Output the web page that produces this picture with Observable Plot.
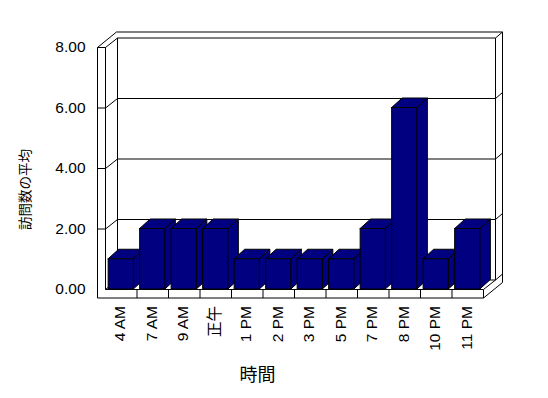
<!DOCTYPE html>
<html>
<head>
<meta charset="utf-8">
<script src="https://cdn.jsdelivr.net/npm/d3@7"></script>
<script src="https://cdn.jsdelivr.net/npm/@observablehq/plot@0.6"></script>
<style>
  html, body { margin: 0; padding: 0; background: #fff; }
  #chart svg { display: block; }
</style>
</head>
<body>
<div id="chart"></div>
<script>
// ---- data ----
const categories = ["4 AM", "7 AM", "9 AM", "正午", "1 PM", "2 PM", "3 PM", "5 PM", "7 PM", "8 PM", "10 PM", "11 PM"];
const values = [1, 2, 2, 2, 1, 1, 1, 1, 2, 6, 1, 2];
const yTicks = [0, 2, 4, 6, 8];
const yTickLabels = ["0.00", "2.00", "4.00", "6.00", "8.00"];
const xTitle = "時間";
const yTitle = "訪問数の平均";

// ---- layout ----
const W = 548, H = 398;
const mL = 105, mR = 65, mT = 47, mB = 109;
const xDomain = [-0.5, categories.length - 0.5];
const yDomain = [0, d3.max(yTicks)];
const kx = (W - mL - mR) / (xDomain[1] - xDomain[0]); // px per x unit
const ky = (H - mT - mB) / (yDomain[1] - yDomain[0]); // px per y unit
const px = p => p / kx, py = p => p / ky;

// depth offsets (pixels -> data units)
const inD = {x: px(12), y: py(9.5)};    // front plane -> back wall inner face
const outD = {x: px(19), y: py(15.5)};  // front plane -> back wall outer face
const wallT = px(8);                    // left wall thickness
const floorT = py(8.5);                 // floor thickness
const barHalf = px(12.6);
const barD = {x: px(10.5), y: py(9.5)};

const xL = xDomain[0], xR = xDomain[1], yT = yDomain[1];
const xLo = xL - wallT, yB = -floorT;

// ---- structural segments (walls / floor / gridlines) ----
const segs = [];
const seg = (x1, y1, x2, y2) => segs.push({x1, y1, x2, y2});
// back wall inner face gridlines + edges
yTicks.forEach(v => seg(xL + inD.x, v + inD.y, xR + inD.x, v + inD.y));
seg(xL + inD.x, inD.y, xL + inD.x, yT + inD.y);
seg(xR + inD.x, inD.y, xR + inD.x, yT + inD.y);
// back wall top (outer edge) and right side
seg(xLo + outD.x, yT + outD.y, xR + outD.x, yT + outD.y);
seg(xR + outD.x, yB + outD.y, xR + outD.x, yT + outD.y);
yTicks.forEach(v => seg(xR + inD.x, v + inD.y, xR + outD.x, v + outD.y));
// left wall front face
seg(xLo, yB, xLo, yT);
seg(xL, 0, xL, yT);
seg(xLo, yT, xL, yT);
yTicks.filter(v => v > 0).forEach(v => seg(xLo, v, xL, v));
// left wall top / inner face diagonals
seg(xLo, yT, xLo + outD.x, yT + outD.y);
yTicks.forEach(v => seg(xL, v, xL + inD.x, v + inD.y));
// floor
seg(xLo, yB, xR, yB);
seg(xL, 0, xR, 0);
seg(xR, yB, xR, 0);
d3.range(1, categories.length).forEach(k => seg(xL + k, yB, xL + k, 0));
seg(xR, 0, xR + inD.x, inD.y);
seg(xR, yB, xR + outD.x, yB + outD.y);

// ---- bar faces ----
const idx = d3.range(values.length);
const sidePts = idx.flatMap(i => [
  {i, x: i + barHalf, y1: 0, y2: values[i]},
  {i, x: i + barHalf + barD.x, y1: barD.y, y2: values[i] + barD.y}
]);
const topPts = idx.flatMap(i => [
  {i, y: values[i], x1: i - barHalf, x2: i + barHalf},
  {i, y: values[i] + barD.y, x1: i - barHalf + barD.x, x2: i + barHalf + barD.x}
]);

const navy = "#000080";
const font = "'Liberation Sans', 'Noto Sans CJK JP', sans-serif";

const chart = Plot.plot({
  width: W, height: H,
  marginLeft: mL, marginRight: mR, marginTop: mT, marginBottom: mB,
  x: {type: "linear", domain: xDomain, axis: null},
  y: {type: "linear", domain: yDomain, axis: null},
  style: {fontFamily: font, background: "#fff", color: "#000", overflow: "visible"},
  marks: [
    Plot.link(segs, {x1: "x1", y1: "y1", x2: "x2", y2: "y2", stroke: "#000", strokeWidth: 1}),
    Plot.area(sidePts, {x1: "x", y1: "y1", y2: "y2", z: "i", fill: navy, stroke: "#000", strokeWidth: 1}),
    Plot.area(topPts, {x1: "x1", x2: "x2", y1: "y", z: "i", fill: navy, stroke: "#000", strokeWidth: 1}),
    Plot.rect(idx, {x1: i => i - barHalf, x2: i => i + barHalf, y1: () => 0, y2: i => values[i], fill: navy, stroke: "#000", strokeWidth: 1}),
    // y tick labels
    Plot.text(yTicks, {x: () => xLo, y: d => d, text: (d, i) => yTickLabels[i], textAnchor: "end", dx: -12, fontSize: 15.5, fill: "#000"}),
    // x category labels
    Plot.text(idx, {x: i => i, y: () => yB, text: i => categories[i], rotate: -90, textAnchor: "end", dy: 8, dx: -1, fontSize: 15.5, fill: "#000"}),
    // axis titles
    Plot.text([xTitle], {frameAnchor: "bottom", text: d => d, textAnchor: "middle", lineAnchor: "middle", dx: -37, dy: 86, fontSize: 18, fill: "#000"}),
    Plot.text([yTitle], {frameAnchor: "left", text: d => d, rotate: -90, textAnchor: "middle", lineAnchor: "middle", dx: -80, dy: 21, fontSize: 13.5, fill: "#000"})
  ]
});
document.getElementById("chart").appendChild(chart);
</script>
</body>
</html>
